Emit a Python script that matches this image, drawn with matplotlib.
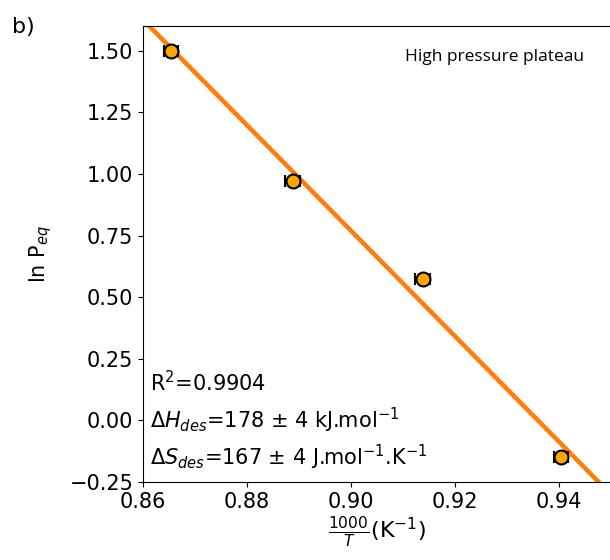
import numpy as np
import matplotlib.pyplot as plt

# Van't Hoff data, high pressure plateau
inv_T = np.array([0.8654, 0.8888, 0.9138, 0.9404])   # 1000/T (K^-1)
ln_peq = np.array([1.500, 0.972, 0.574, -0.148])
inv_T_err = np.array([0.0014, 0.0014, 0.0014, 0.0014])

r2_text = r"R$^2$=0.9904"
dh_text = r"$\Delta H_{des}$=178 $\pm$ 4 kJ.mol$^{-1}$"
ds_text = r"$\Delta S_{des}$=167 $\pm$ 4 J.mol$^{-1}$.K$^{-1}$"

fig = plt.figure(figsize=(6.1, 5.6), dpi=100)
ax = fig.add_axes([0.2344, 0.1393, 1.0016 - 0.2344, 0.9536 - 0.1393])

# Linear fit through the points
slope, intercept = np.polyfit(inv_T, ln_peq, 1)
xfit = np.linspace(0.85, 0.96, 50)
ax.plot(xfit, slope * xfit + intercept, color='#ff7f0e', lw=3.3, zorder=1)

ax.errorbar(inv_T, ln_peq, xerr=inv_T_err, fmt='o', color='black',
            mfc='orange', mec='black', ms=10, mew=1.5,
            elinewidth=2, capsize=4.5, capthick=2.5, zorder=3)

ax.set_xlim(0.86, 0.95)
ax.set_ylim(-0.25, 1.6)
ax.set_xticks([0.86, 0.88, 0.90, 0.92, 0.94])
ax.set_yticks(np.arange(-0.25, 1.51, 0.25))
ax.tick_params(labelsize=15)

ax.set_xlabel(r"$\frac{1000}{T}$(K$^{-1}$)", fontsize=16, labelpad=2)
ax.set_ylabel(r"ln P$_{eq}$", fontsize=15, labelpad=11)

ax.text(0.015, 0.217, r2_text, transform=ax.transAxes, fontsize=15, va='center')
ax.text(0.015, 0.136, dh_text, transform=ax.transAxes, fontsize=15, va='center')
ax.text(0.015, 0.055, ds_text, transform=ax.transAxes, fontsize=15, va='center')

ax.text(0.752, 0.932, "High pressure plateau", transform=ax.transAxes,
        fontsize=12.5, family='Open Sans', ha='center', va='center')

fig.text(0.02, 0.97, "b)", fontsize=16, va='top')

fig.savefig("out.png", dpi=100)
